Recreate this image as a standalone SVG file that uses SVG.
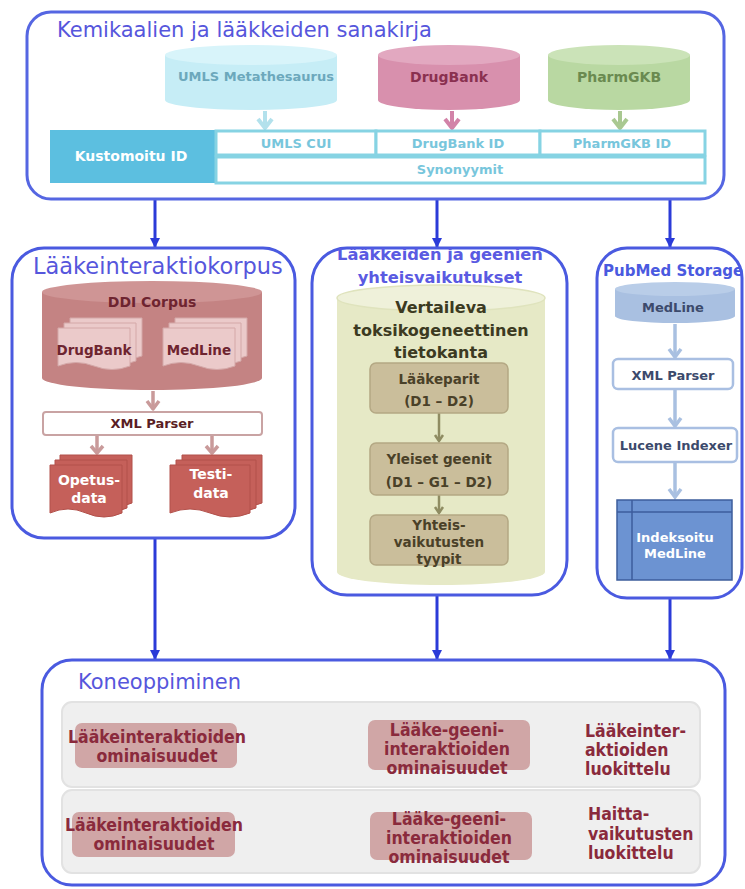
<svg xmlns="http://www.w3.org/2000/svg" width="745" height="889" viewBox="0 0 745 889">
<defs>
<style>
.frame{fill:#ffffff;stroke:#4a5ae0;stroke-width:3}
.conn{stroke:#2b3bd8;stroke-width:3;fill:none}
.title{font-family:"DejaVu Sans",sans-serif;fill:#5656dc}
.b{font-family:"DejaVu Sans",sans-serif;font-weight:bold}
.c{font-family:"DejaVu Sans Condensed","DejaVu Sans",sans-serif;font-weight:bold;font-stretch:condensed}
.mid{text-anchor:middle}
.cell{fill:#ffffff;stroke:#86d3e3;stroke-width:3}
.cyt{fill:#78c6dc;font-size:13px}
.rose{fill:#6e2430;font-size:13.5px}
.olive{fill:#3c3a22}
.tan{fill:#cabe9b;stroke:#b4a884;stroke-width:1.5}
.tant{fill:#4a4128;font-size:13.5px}
.pm{fill:#ffffff;stroke:#a9bfe2;stroke-width:2.5}
.pmt{fill:#3c4a6c;font-size:13px}
.pink{fill:#d0a6a6}
.kt{fill:#8a2a3c;font-size:17.5px}
.row{fill:#efefef;stroke:#e2e2e2;stroke-width:2}
</style>
<marker id="ah" viewBox="0 0 10 10" refX="9" refY="5" markerWidth="10" markerHeight="10" markerUnits="userSpaceOnUse" orient="auto">
<path d="M0,0 L10,5 L0,10 z" fill="#2b3bd8"/>
</marker>
</defs>

<g id="connectors">
<line class="conn" x1="155" y1="200" x2="155" y2="247" marker-end="url(#ah)"/>
<line class="conn" x1="437" y1="200" x2="437" y2="247" marker-end="url(#ah)"/>
<line class="conn" x1="670" y1="200" x2="670" y2="247" marker-end="url(#ah)"/>
<line class="conn" x1="155" y1="538" x2="155" y2="659" marker-end="url(#ah)"/>
<line class="conn" x1="437" y1="595" x2="437" y2="659" marker-end="url(#ah)"/>
<line class="conn" x1="670" y1="598" x2="670" y2="659" marker-end="url(#ah)"/>
</g>

<g id="sanakirja">
<rect class="frame" x="27" y="12" width="697" height="187" rx="24" style="stroke:#5566e2"/>
<text class="title" x="57" y="37" font-size="21">Kemikaalien ja lääkkeiden sanakirja</text>
<g id="umls">
<path d="M165,55 V100 A86,10 0 0 0 337,100 V55 z" fill="#c6edf6"/>
<ellipse cx="251" cy="55" rx="86" ry="10" fill="#d8f4fa"/>
<text class="b mid" x="256" y="81" font-size="13" fill="#6ca8bc">UMLS Metathesaurus</text>
</g>
<g id="drugbank">
<path d="M378,55 V100 A71,10 0 0 0 520,100 V55 z" fill="#d890ad"/>
<ellipse cx="449" cy="55" rx="71" ry="10" fill="#e2a8c0"/>
<text class="b mid" x="449" y="82" font-size="14" fill="#8a3050">DrugBank</text>
</g>
<g id="pharmgkb">
<path d="M548,55 V100 A71,10 0 0 0 690,100 V55 z" fill="#b9d8a2"/>
<ellipse cx="619" cy="55" rx="71" ry="10" fill="#cbe3b8"/>
<text class="b mid" x="619" y="82" font-size="14" fill="#6a8a50">PharmGKB</text>
</g>
<g fill="none" stroke-width="4" stroke-linejoin="round">
<path d="M265,111 V128" stroke="#b3e1ec"/>
<path d="M258,119 L265,128 L272,119" stroke="#b3e1ec"/>
<path d="M452,111 V128" stroke="#d283a8"/>
<path d="M445,119 L452,128 L459,119" stroke="#d283a8"/>
<path d="M620,111 V128" stroke="#a9c891"/>
<path d="M613,119 L620,128 L627,119" stroke="#a9c891"/>
</g>
<g id="idtable">
<rect x="50" y="130" width="166" height="53" fill="#5cbfe0"/>
<text class="b mid" x="131" y="161" font-size="14" fill="#ffffff">Kustomoitu ID</text>
<rect class="cell" x="216" y="131" width="160" height="24"/>
<rect class="cell" x="376" y="131" width="164" height="24"/>
<rect class="cell" x="540" y="131" width="165" height="24"/>
<rect class="cell" x="216" y="157" width="489" height="26"/>
<text class="b mid cyt" x="296" y="148">UMLS CUI</text>
<text class="b mid cyt" x="458" y="148">DrugBank ID</text>
<text class="b mid cyt" x="622" y="148">PharmGKB ID</text>
<text class="b mid cyt" x="460" y="174">Synonyymit</text>
</g>
</g>

<g id="laakeinteraktiokorpus">
<rect class="frame" x="12" y="248" width="283" height="290" rx="32"/>
<text class="title" x="33" y="274" font-size="22.5">Lääkeinteraktiokorpus</text>
<g id="ddi">
<path d="M42,292 V378 A110,12 0 0 0 262,378 V292 z" fill="#c48383"/>
<ellipse cx="152" cy="292" rx="110" ry="11" fill="#cf9595"/>
<text class="b mid" x="152" y="307" font-size="14" fill="#6e2430">DDI Corpus</text>
<g fill="#ebcaca" stroke="#d4a8a8" stroke-width="1">
<path d="M70,318 h72 v38 q-18,7 -36,0 t-36,0 z"/>
<path d="M64,323 h72 v38 q-18,7 -36,0 t-36,0 z"/>
<path d="M58,328 h72 v38 q-18,7 -36,0 t-36,0 z"/>
<path d="M175,318 h72 v38 q-18,7 -36,0 t-36,0 z"/>
<path d="M169,323 h72 v38 q-18,7 -36,0 t-36,0 z"/>
<path d="M163,328 h72 v38 q-18,7 -36,0 t-36,0 z"/>
</g>
<text class="b mid rose" x="94" y="355">DrugBank</text>
<text class="b mid rose" x="199" y="355">MedLine</text>
</g>
<g fill="none" stroke="#c99a9a" stroke-width="3.5" stroke-linejoin="round">
<path d="M153,391 V409"/><path d="M147,401 L153,409 L159,401"/>
<path d="M97,436 V453"/><path d="M91,446 L97,453 L103,446"/>
<path d="M212,436 V453"/><path d="M206,446 L212,453 L218,446"/>
</g>
<rect x="43" y="412" width="219" height="23" rx="3" fill="#ffffff" stroke="#c9a3a3" stroke-width="2"/>
<text class="b mid" x="152" y="428" font-size="13" fill="#5a1e24">XML Parser</text>
<g fill="#c5605a" stroke="#b2504a" stroke-width="1">
<path d="M60,455 h72 v48 q-18,8 -36,0 t-36,0 z"/>
<path d="M55,460 h72 v48 q-18,8 -36,0 t-36,0 z"/>
<path d="M50,465 h72 v48 q-18,8 -36,0 t-36,0 z"/>
<path d="M182,455 h80 v48 q-20,8 -40,0 t-40,0 z"/>
<path d="M176,460 h80 v48 q-20,8 -40,0 t-40,0 z"/>
<path d="M170,465 h80 v48 q-20,8 -40,0 t-40,0 z"/>
</g>
<text class="b mid" x="89" y="485" font-size="14" fill="#ffffff">Opetus-</text>
<text class="b mid" x="89" y="503" font-size="14" fill="#ffffff">data</text>
<text class="b mid" x="211" y="479" font-size="14" fill="#ffffff">Testi-</text>
<text class="b mid" x="211" y="498" font-size="14" fill="#ffffff">data</text>
</g>

<g id="yhteisvaikutukset">
<rect class="frame" x="312" y="248" width="255" height="347" rx="35"/>
<text class="b mid" x="440" y="260" font-size="16.3" fill="#5a5ae2">Lääkkeiden ja geenien</text>
<text class="b mid" x="440" y="283" font-size="16.3" fill="#5a5ae2">yhteisvaikutukset</text>
<path d="M337,298 V572 A104,13 0 0 0 545,572 V298 z" fill="#e6e9c6"/>
<ellipse cx="441" cy="298" rx="104" ry="13" fill="#eff1da" stroke="#dfe3bd" stroke-width="1.5"/>
<text class="b mid olive" x="441" y="313" font-size="16">Vertaileva</text>
<text class="b mid olive" x="441" y="336" font-size="16">toksikogeneettinen</text>
<text class="b mid olive" x="441" y="358" font-size="16">tietokanta</text>
<g fill="none" stroke="#8f8c62" stroke-width="2.5">
<path d="M439,413 V441"/><path d="M435,435 L439,441 L443,435"/>
<path d="M439,495 V513"/><path d="M435,507 L439,513 L443,507"/>
</g>
<rect class="tan" x="370" y="363" width="138" height="50" rx="6"/>
<text class="b mid tant" x="439" y="384">Lääkeparit</text>
<text class="b mid tant" x="439" y="406">(D1 – D2)</text>
<rect class="tan" x="370" y="443" width="138" height="52" rx="6"/>
<text class="b mid tant" x="439" y="464">Yleiset geenit</text>
<text class="b mid tant" x="439" y="487">(D1 – G1 – D2)</text>
<rect class="tan" x="370" y="515" width="138" height="50" rx="6"/>
<text class="b mid tant" x="439" y="530">Yhteis-</text>
<text class="b mid tant" x="439" y="547">vaikutusten</text>
<text class="b mid tant" x="439" y="564">tyypit</text>
</g>

<g id="pubmed">
<rect class="frame" x="597" y="248" width="145" height="350" rx="30"/>
<text class="b" x="603" y="276" font-size="15" fill="#4a5ae0">PubMed Storage</text>
<path d="M615,289 V316 A60,7 0 0 0 735,316 V289 z" fill="#a9c0e1"/>
<ellipse cx="675" cy="289" rx="60" ry="7" fill="#b9cde8"/>
<text class="b mid pmt" x="673" y="312">MedLine</text>
<g fill="none" stroke="#a9c0e1" stroke-width="3.5">
<path d="M675,324 V357"/><path d="M669,349 L675,357 L681,349"/>
<path d="M675,389 V426"/><path d="M669,418 L675,426 L681,418"/>
<path d="M675,463 V497"/><path d="M669,489 L675,497 L681,489"/>
</g>
<rect class="pm" x="613" y="359" width="120" height="30" rx="5"/>
<text class="b mid pmt" x="673" y="380">XML Parser</text>
<rect class="pm" x="613" y="428" width="124" height="34" rx="5"/>
<text class="b mid pmt" x="676" y="450">Lucene Indexer</text>
<rect x="617" y="500" width="115" height="80" fill="#6c93d2" stroke="#3d5d9c" stroke-width="1.5"/>
<line x1="617" y1="512" x2="732" y2="512" stroke="#3d5d9c" stroke-width="1.5"/>
<line x1="632" y1="500" x2="632" y2="580" stroke="#3d5d9c" stroke-width="1.5"/>
<text class="b mid" x="675" y="542" font-size="13" fill="#ffffff">Indeksoitu</text>
<text class="b mid" x="675" y="558" font-size="13" fill="#ffffff">MedLine</text>
</g>

<g id="koneoppiminen">
<rect class="frame" x="42" y="660" width="683" height="225" rx="30"/>
<text class="title" x="78" y="689" font-size="21">Koneoppiminen</text>
<rect class="row" x="62" y="702" width="638" height="85" rx="10"/>
<rect class="row" x="62" y="790" width="638" height="83" rx="10"/>
<rect class="pink" x="75" y="723" width="162" height="45" rx="7"/>
<rect class="pink" x="368" y="720" width="162" height="50" rx="7"/>
<rect class="pink" x="72" y="812" width="163" height="45" rx="7"/>
<rect class="pink" x="370" y="812" width="162" height="48" rx="7"/>
<text class="c mid kt" x="157" y="743">Lääkeinteraktioiden</text>
<text class="c mid kt" x="157" y="762">ominaisuudet</text>
<text class="c mid kt" x="447" y="736">Lääke-geeni-</text>
<text class="c mid kt" x="447" y="755">interaktioiden</text>
<text class="c mid kt" x="447" y="774">ominaisuudet</text>
<text class="c kt" x="585" y="737">Lääkeinter-</text>
<text class="c kt" x="585" y="756">aktioiden</text>
<text class="c kt" x="585" y="775">luokittelu</text>
<text class="c mid kt" x="154" y="831">Lääkeinteraktioiden</text>
<text class="c mid kt" x="154" y="850">ominaisuudet</text>
<text class="c mid kt" x="449" y="825">Lääke-geeni-</text>
<text class="c mid kt" x="449" y="844">interaktioiden</text>
<text class="c mid kt" x="449" y="863">ominaisuudet</text>
<text class="c kt" x="588" y="820">Haitta-</text>
<text class="c kt" x="588" y="840">vaikutusten</text>
<text class="c kt" x="588" y="859">luokittelu</text>
</g>
</svg>
